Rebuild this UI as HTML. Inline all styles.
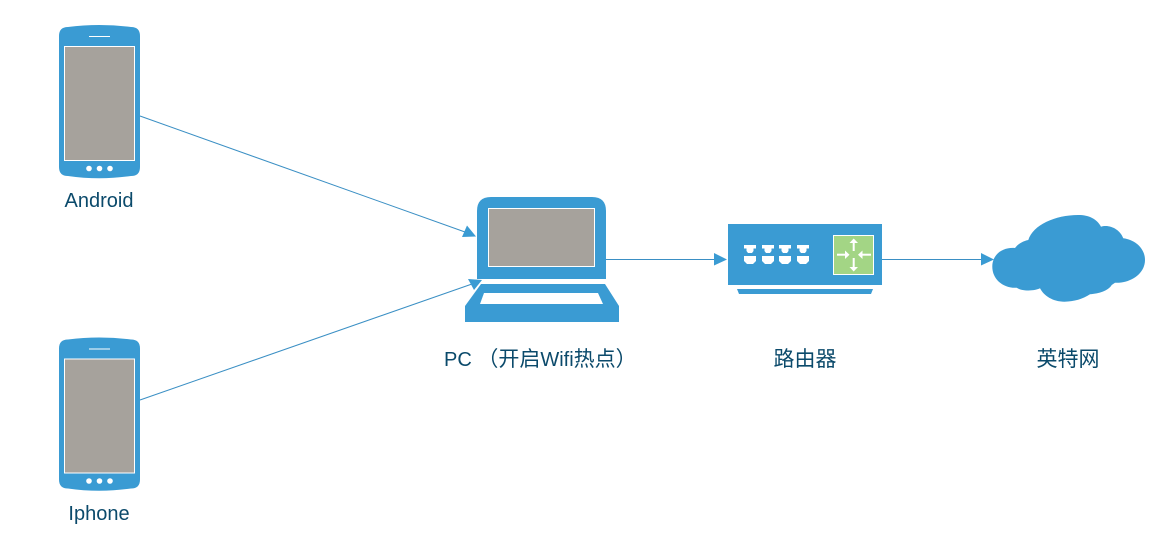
<!DOCTYPE html>
<html>
<head>
<meta charset="utf-8">
<style>
html,body{margin:0;padding:0;background:#fff;}
svg{display:block;}
text{font-family:"Liberation Sans","Noto Sans CJK SC",sans-serif;font-size:20px;fill:#0b4a6b;text-anchor:middle;}
.c{font-size:21px;}
</style>
</head>
<body>
<svg width="1168" height="540" viewBox="0 0 1168 540" xmlns="http://www.w3.org/2000/svg">
<defs>
<g id="phone">
<path d="M59,36 Q59,27 68,27 Q99,23 131,27 Q140,27 140,36 L140,167 Q140,176 131,176 Q99,180.500 68,176 Q59,176 59,167 Z" fill="#3a9bd3"/>
<rect x="64.500" y="46.500" width="70" height="114" fill="#a6a29c" stroke="#fff" stroke-width="1"/>
<line x1="89" y1="36.500" x2="110" y2="36.500" stroke="#fff" stroke-width="1"/>
<circle cx="89" cy="168.500" r="2.800" fill="#fff"/>
<circle cx="99.500" cy="168.500" r="2.800" fill="#fff"/>
<circle cx="110" cy="168.500" r="2.800" fill="#fff"/>
</g>
<g id="p1"><path d="M0,0 H12 V3.500 H9.500 V6 L8,8 H4 L2.500,6 V3.500 H0 Z" fill="#fff"/></g>
<g id="p2"><path d="M0,0 H12 V5 L9,8 H3 L0,5 Z" fill="#fff"/></g>
</defs>

<use href="#phone"/>
<use href="#phone" y="312.500"/>

<!-- connectors -->
<g stroke="#3a8fc4" stroke-width="1" fill="none">
<line x1="140" y1="116" x2="465" y2="232"/>
<line x1="140" y1="400" x2="472" y2="284"/>
<line x1="606" y1="259.500" x2="715" y2="259.500"/>
<line x1="882" y1="259.500" x2="982" y2="259.500"/>
</g>
<g fill="#3a9bd3">
<polygon points="476,236.500 462,237 467,225.500"/>
<polygon points="482,280 468,279 474,290"/>
<polygon points="727,259.500 714,253 714,265.500"/>
<polygon points="994,259.500 981,253 981,265.500"/>
</g>

<!-- laptop -->
<path d="M477,279 V211 Q477,197 491,197 H592 Q606,197 606,211 V279 Z" fill="#3a9bd3"/>
<rect x="488.500" y="208.500" width="106" height="58" fill="#a6a29c" stroke="#fff" stroke-width="1"/>
<path d="M481,284 H605 L619,306 V322 H465 V306 Z" fill="#3a9bd3"/>
<path d="M484,293 H598 L603,304 H480 Z" fill="#fff"/>

<!-- router -->
<rect x="728" y="224" width="154" height="61" fill="#3a9bd3"/>
<path d="M737,289 H873 L871,294 H739 Z" fill="#3a9bd3"/>
<use href="#p1" x="744" y="245"/><use href="#p1" x="762" y="245"/><use href="#p1" x="779" y="245"/><use href="#p1" x="797" y="245"/>
<use href="#p2" x="744" y="256"/><use href="#p2" x="762" y="256"/><use href="#p2" x="779" y="256"/><use href="#p2" x="797" y="256"/>
<rect x="833.500" y="235.500" width="40" height="39" fill="#a3d585" stroke="#fff" stroke-width="1"/>
<g stroke="#fff" stroke-width="2" fill="none">
<path d="M853.700,242 V251"/>
<path d="M853.700,267 V258"/>
<path d="M837,254.700 H846"/>
<path d="M871,254.700 H862"/>
</g>
<g fill="#fff">
<polygon points="853.700,238.500 849.500,243 858,243"/>
<polygon points="853.700,271.500 849.500,267 858,267"/>
<polygon points="849.500,254.700 845,250.500 845,259"/>
<polygon points="858,254.700 862.500,250.500 862.500,259"/>
</g>

<!-- cloud -->
<path d="M992.300,266.700 C992.300,254 1003,247 1015,248 C1018,244 1023,241 1028.300,240 C1033,225 1055,215 1078.300,215 C1089,215 1097,219 1101,226.700 C1109,224 1120,229 1123.300,238.300 C1136,240 1145,249 1145,260 C1145,274 1130,283.500 1115,282.700 L1111.700,285 C1108,291 1099,293.500 1090,294.300 C1083,299 1074,301.700 1064.300,301.700 C1053,301.700 1044,296 1040,288.300 C1035,291 1022,291.500 1016.700,287.700 C1003,288.500 992.300,279 992.300,266.700 Z" fill="#3a9bd3"/>

<!-- labels -->
<text x="99" y="207">Android</text>
<text x="99" y="520">Iphone</text>
<text x="444" y="366" style="text-anchor:start">PC <tspan class="c">（开启</tspan>Wifi<tspan class="c">热点）</tspan></text>
<text class="c" x="805" y="366">路由器</text>
<text class="c" x="1068" y="366">英特网</text>
</svg>
</body>
</html>
